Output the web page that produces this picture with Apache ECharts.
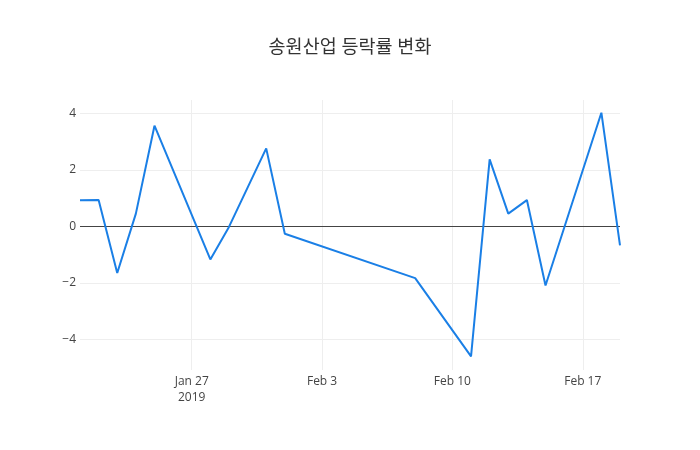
<!DOCTYPE html>
<html>
<head>
<meta charset="utf-8">
<script src="https://cdn.jsdelivr.net/npm/echarts@6/dist/echarts.min.js"></script>
<style>
  html, body { margin: 0; padding: 0; background: #fff; }
  #chart { width: 700px; height: 450px; }
</style>
</head>
<body>
<div id="chart"></div>
<script>
// 거래일과 등락률(%)
var dates = ['2019-01-21', '2019-01-22', '2019-01-23', '2019-01-24', '2019-01-25',
    '2019-01-28', '2019-01-29', '2019-01-31', '2019-02-01', '2019-02-08',
    '2019-02-11', '2019-02-12', '2019-02-13', '2019-02-14', '2019-02-15',
    '2019-02-18', '2019-02-19'];
var changes = [0.92, 0.93, -1.65, 0.45, 3.56,
    -1.17, -0.02, 2.76, -0.26, -1.83,
    -4.6, 2.37, 0.45, 0.93, -2.09,
    4.02, -0.67];
var tickDates = ['2019-01-27', '2019-02-03', '2019-02-10', '2019-02-17'];
var months = ['Jan', 'Feb', 'Mar', 'Apr', 'May', 'Jun', 'Jul', 'Aug', 'Sep', 'Oct', 'Nov', 'Dec'];

function toTime(s) {
    var p = s.split('-');
    return new Date(+p[0], +p[1] - 1, +p[2]).getTime();
}

var tickValues = tickDates.map(toTime);
var seriesData = dates.map(function (d, i) { return [toTime(d), changes[i]]; });

var myChart = echarts.init(document.getElementById('chart'));
var option = {
    backgroundColor: '#fff',
    animation: false,
    title: {
        text: '송원산업 등락률 변화',
        left: 'center',
        top: 33,
        textStyle: {
            fontFamily: 'Open Sans, Noto Sans CJK KR',
            fontSize: 18.5,
            fontWeight: 'normal',
            color: '#333'
        }
    },
    grid: { left: 80, right: 80, top: 100, bottom: 80 },
    xAxis: {
        type: 'value',
        min: toTime(dates[0]),
        max: toTime(dates[dates.length - 1]),
        axisLine: { show: false },
        axisTick: { show: false, customValues: tickValues },
        axisLabel: {
            customValues: tickValues,
            color: '#444',
            fontSize: 12,
            fontFamily: 'Open Sans',
            margin: 4,
            lineHeight: 16,
            formatter: function (v) {
                var d = new Date(v);
                var s = months[d.getMonth()] + ' ' + d.getDate();
                if (v === tickValues[0]) s += '\n' + d.getFullYear();
                return s;
            }
        },
        splitLine: { show: true, lineStyle: { color: '#eee', width: 1 } }
    },
    yAxis: {
        type: 'value',
        min: -5.08,
        max: 4.47,
        splitNumber: 5,
        axisLine: { show: false },
        axisTick: { show: false },
        axisLabel: {
            color: '#444',
            fontSize: 12,
            fontFamily: 'Open Sans',
            margin: 4,
            showMinLabel: false,
            showMaxLabel: false,
            formatter: function (v) {
                return String(v).replace('-', '\u2212');
            }
        },
        splitLine: {
            show: true,
            showMinLine: false,
            showMaxLine: false,
            lineStyle: { color: '#eee', width: 1 }
        }
    },
    series: [{
        type: 'line',
        data: seriesData,
        showSymbol: false,
        symbol: 'none',
        lineStyle: { color: '#1a7fe6', width: 2 },
        itemStyle: { color: '#1a7fe6' },
        markLine: {
            silent: true,
            symbol: 'none',
            label: { show: false },
            lineStyle: { color: '#444', width: 1, type: 'solid' },
            data: [{ yAxis: 0 }],
            z: 1
        }
    }]
};
myChart.setOption(option);
</script>
</body>
</html>
